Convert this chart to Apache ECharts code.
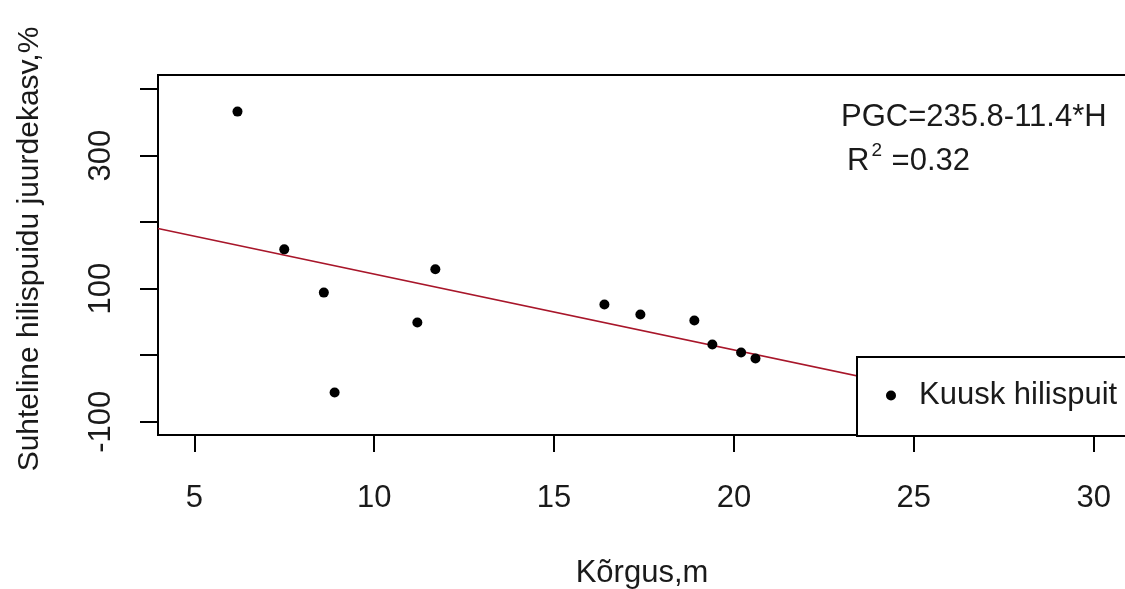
<!DOCTYPE html>
<html>
<head>
<meta charset="utf-8">
<script src="https://cdn.jsdelivr.net/npm/echarts@6/dist/echarts.min.js"></script>
<style>
    html, body { margin: 0; padding: 0; background: #fff; }
    #chart { width: 1125px; height: 589px; }
</style>
</head>
<body>
<div id="chart"></div>
<script>
// height (m) and relative latewood growth (%)
const heights = [6.2, 7.5, 8.6, 8.9, 11.2, 11.7, 16.4, 17.4, 18.9, 19.4, 20.2, 20.6];
const growth = [366, 159, 94, -56, 49, 129, 76, 61, 52, 16, 4, -5];

// regression PGC = a + b*H
const intercept = 235.8;
const slope = -11.4;

const xTicks = [5, 10, 15, 20, 25, 30];
const yTicks = [-100, 0, 100, 200, 300, 400];
const yLabels = [-100, 100, 300];

const xMin = 3.99;
const xMax = 30.9;

const font = "'Liberation Sans', Arial, sans-serif";
const textColor = '#1a1a1a';
const fs = 31;

let points = heights.map((h, i) => [h, growth[i]]);
let fitLine = [
    [xMin, intercept + slope * xMin],
    [xMax, intercept + slope * xMax]
];

const chart = echarts.init(document.getElementById('chart'));
chart.setOption({
    animation: false,
    textStyle: {
        fontFamily: font
    },
    grid: {
        left: 158,
        top: 75,
        width: 968,
        height: 360,
        outerBoundsMode: 'none',
        containLabel: false,
        show: true,
        borderColor: '#000',
        borderWidth: 2,
        backgroundColor: 'transparent'
    },
    xAxis: {
        type: 'value',
        min: xMin,
        max: xMax,
        name: 'Kõrgus,m',
        nameLocation: 'middle',
        nameGap: 123,
        nameTextStyle: {
            fontSize: fs,
            color: textColor,
            fontFamily: font
        },
        axisLine: {
            onZero: false,
            lineStyle: {color: '#000', width: 2}
        },
        axisTick: {
            customValues: xTicks,
            length: 17,
            lineStyle: {color: '#000', width: 2}
        },
        axisLabel: {
            customValues: xTicks,
            margin: 48,
            fontSize: fs,
            color: textColor,
            fontFamily: font
        },
        splitLine: {show: false}
    },
    yAxis: {
        type: 'value',
        min: -120,
        max: 421,
        name: 'Suhteline hilispuidu juurdekasv,%',
        nameLocation: 'middle',
        nameGap: 113,
        nameTextStyle: {
            fontSize: 30,
            color: textColor,
            fontFamily: font,
            padding: [0, 0, 0, 12]
        },
        axisLine: {
            show: true,
            onZero: false,
            lineStyle: {color: '#000', width: 2}
        },
        axisTick: {
            show: true,
            customValues: yTicks,
            length: 18,
            lineStyle: {color: '#000', width: 2}
        },
        axisLabel: {
            customValues: yLabels,
            rotate: 90,
            margin: 41,
            fontSize: fs,
            color: textColor,
            fontFamily: font
        },
        splitLine: {show: false}
    },
    legend: {
        data: [{name: 'Kuusk hilispuit', icon: 'circle'}],
        left: 857,
        top: 357,
        orient: 'vertical',
        padding: [23, 60, 25, 29],
        itemWidth: 46,
        itemHeight: 10,
        backgroundColor: '#fff',
        borderColor: '#000',
        borderWidth: 2,
        borderRadius: 0,
        selectedMode: false,
        textStyle: {
            fontSize: fs,
            color: textColor,
            fontFamily: font
        }
    },
    graphic: [
        {
            type: 'text',
            left: 841,
            top: 102,
            style: {
                text: 'PGC=235.8-11.4*H',
                font: fs + 'px ' + font,
                fill: textColor
            }
        },
        {
            type: 'text',
            left: 847,
            top: 141,
            style: {
                text: 'R{sup|2} =0.32',
                font: fs + 'px ' + font,
                fill: textColor,
                rich: {
                    sup: {
                        fontSize: 19,
                        verticalAlign: 'top',
                        fontFamily: font,
                        fill: textColor,
                        padding: [0, 1, 22, 2]
                    }
                }
            }
        }
    ],
    series: [
        {
            name: 'fit',
            type: 'line',
            data: fitLine,
            showSymbol: false,
            silent: true,
            z: 1,
            lineStyle: {
                color: '#a8162a',
                width: 1.6
            }
        },
        {
            name: 'Kuusk hilispuit',
            type: 'scatter',
            data: points,
            symbol: 'circle',
            symbolSize: 10,
            z: 2,
            itemStyle: {
                color: '#000',
                opacity: 1
            }
        }
    ]
});
</script>
</body>
</html>
